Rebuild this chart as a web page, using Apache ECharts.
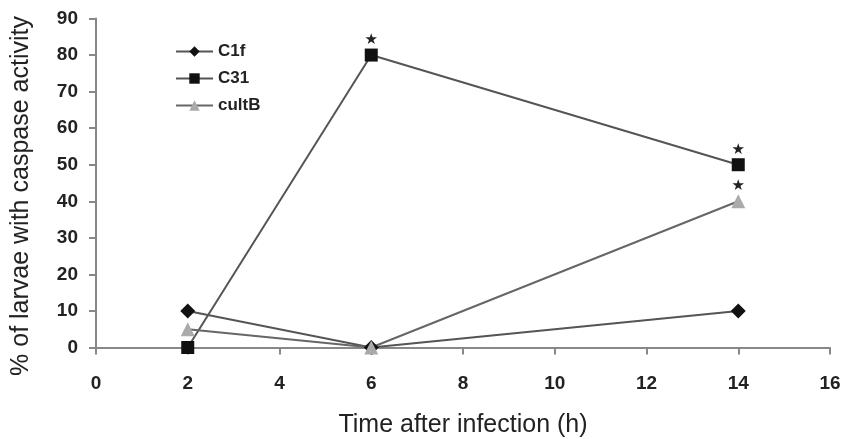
<!DOCTYPE html>
<html><head><meta charset="utf-8">
<script src="https://cdn.jsdelivr.net/npm/echarts@6/dist/echarts.min.js"></script>
<style>html,body{margin:0;padding:0;background:#fff}#c{width:843px;height:439px}</style>
</head><body><div id="c"></div>
<script>
var times = [2, 6, 14];
var c1f = [10, 0, 10];
var c31 = [0, 80, 50];
var cultB = [5, 0, 40];
var c31Star = [false, true, true];
var cultBStar = [false, false, true];
var xTicks = [0, 2, 4, 6, 8, 10, 12, 14, 16];
var yTicks = [0, 10, 20, 30, 40, 50, 60, 70, 80, 90];

function build(vals, stars) {
  return times.map(function (t, i) {
    var d = { value: [t, vals[i]] };
    if (stars && stars[i]) {
      d.label = { show: true, formatter: '\u2605', position: 'top', distance: 1,
        fontSize: 15, color: '#222', fontFamily: 'DejaVu Sans' };
    }
    return d;
  });
}
var font = 'Liberation Sans';
var chart = echarts.init(document.getElementById('c'));
chart.setOption({
  animation: false,
  grid: { left: 96, right: 13, top: 18.5, bottom: 91.5, containLabel: false, outerBoundsMode: 'none' },
  legend: {
    orient: 'vertical', left: 170, top: 38, itemGap: 10, itemWidth: 37, itemHeight: 13,
    textStyle: { fontFamily: font, fontWeight: 'bold', fontSize: 17, color: '#222' },
    data: ['C1f', 'C31', 'cultB']
  },
  xAxis: {
    type: 'value', min: 0, max: 16, interval: 2,
    name: 'Time after infection (h)', nameLocation: 'middle', nameGap: 65,
    nameTextStyle: { fontFamily: font, fontSize: 25, color: '#222' },
    axisLine: { lineStyle: { color: '#888', width: 2 } },
    axisTick: { show: true, length: 7, lineStyle: { color: '#888', width: 2 } },
    axisLabel: { fontFamily: font, fontWeight: 'bold', fontSize: 19, color: '#222', margin: 27 },
    splitLine: { show: false }
  },
  yAxis: {
    type: 'value', min: 0, max: 90, interval: 10,
    name: '% of larvae with caspase activity', nameLocation: 'middle', nameGap: 62,
    nameTextStyle: { fontFamily: font, fontSize: 25, color: '#222', padding: [0, 26, 0, 0] },
    axisLine: { show: true, lineStyle: { color: '#888', width: 2 } },
    axisTick: { show: true, length: 7, lineStyle: { color: '#888', width: 2 } },
    axisLabel: { fontFamily: font, fontWeight: 'bold', fontSize: 19, color: '#222', margin: 18 },
    splitLine: { show: false }
  },
  series: [
    { name: 'C1f', type: 'line', data: build(c1f), symbol: 'diamond', symbolSize: 15,
      itemStyle: { color: '#111' }, lineStyle: { color: '#555', width: 2 } },
    { name: 'C31', type: 'line', data: build(c31, c31Star), symbol: 'rect', symbolSize: 13,
      itemStyle: { color: '#111' }, lineStyle: { color: '#555', width: 2 } },
    { name: 'cultB', type: 'line', data: build(cultB, cultBStar), symbol: 'triangle', symbolSize: 14,
      itemStyle: { color: '#aaa' }, lineStyle: { color: '#666', width: 2 } }
  ]
});
</script></body></html>
